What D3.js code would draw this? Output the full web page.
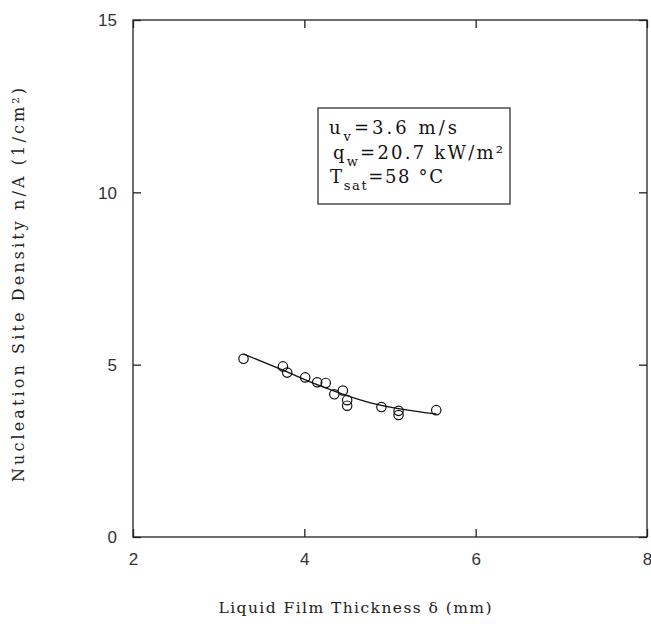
<!DOCTYPE html>
<html><head><meta charset="utf-8">
<script src="https://cdn.jsdelivr.net/npm/d3@7"></script>
<style>body{margin:0;background:#fff}</style>
</head><body>
<script>
const pointX = [3.29, 3.75, 3.80, 4.01, 4.15, 4.25, 4.35, 4.45, 4.50, 4.50, 4.90, 5.10, 5.10, 5.54];
const pointY = [5.17, 4.95, 4.77, 4.63, 4.49, 4.47, 4.14, 4.25, 3.97, 3.81, 3.77, 3.66, 3.54, 3.68];
const fitX = [3.29, 3.75, 4.18, 4.76, 5.35, 5.54];
const fitY = [5.31, 4.84, 4.39, 3.90, 3.63, 3.57];
const xTicks = [2, 4, 6, 8];
const yTicks = [0, 5, 10, 15];

const W = 651, H = 626;
const svg = d3.select("body").append("svg").attr("width", W).attr("height", H);
const x = d3.scaleLinear().domain([2, 8]).range([133, 647]);
const y = d3.scaleLinear().domain([0, 15]).range([537, 20]);

const axisColor = "#222";
svg.append("rect").attr("x", x(2)).attr("y", y(15)).attr("width", x(8) - x(2)).attr("height", y(0) - y(15))
  .attr("fill", "none").attr("stroke", axisColor).attr("stroke-width", 1.3);

const tl = 8;
const gB = svg.append("g").attr("transform", `translate(0,${y(0)})`)
  .call(d3.axisBottom(x).tickValues(xTicks).tickSize(-tl).tickPadding(16).tickFormat(d3.format("d")));
const gT = svg.append("g").attr("transform", `translate(0,${y(15)})`)
  .call(d3.axisTop(x).tickValues(xTicks).tickSize(-tl).tickFormat(""));
const gL = svg.append("g").attr("transform", `translate(${x(2)},0)`)
  .call(d3.axisLeft(y).tickValues(yTicks).tickSize(-tl).tickPadding(16).tickFormat(d3.format("d")));
const gR = svg.append("g").attr("transform", `translate(${x(8)},0)`)
  .call(d3.axisRight(y).tickValues(yTicks).tickSize(-tl).tickFormat(""));
[gB, gT, gL, gR].forEach(g => {
  g.select(".domain").remove();
  g.selectAll(".tick line").attr("stroke", axisColor).attr("stroke-width", 1.3);
  g.selectAll(".tick text").attr("font-family", "Liberation Sans, Arial, sans-serif")
    .attr("font-size", 17).attr("fill", "#333");
});
gB.selectAll(".tick text").attr("dy", "0.71em");
gL.selectAll(".tick text").attr("dy", "0.35em");

const line = d3.line().x(d => x(d[0])).y(d => y(d[1])).curve(d3.curveMonotoneX);
svg.append("path").datum(fitX.map((v, i) => [v, fitY[i]]))
  .attr("d", line).attr("fill", "none").attr("stroke", "#111").attr("stroke-width", 1.3);

svg.selectAll("circle.pt").data(pointX.map((v, i) => [v, pointY[i]])).enter().append("circle")
  .attr("class", "pt").attr("cx", d => x(d[0])).attr("cy", d => y(d[1])).attr("r", 4.7)
  .attr("fill", "none").attr("stroke", "#111").attr("stroke-width", 1.2);

svg.append("text").attr("x", 355).attr("y", 613).attr("text-anchor", "middle")
  .attr("font-family", "DejaVu Serif, Liberation Serif, serif").attr("font-size", 15.5).attr("fill", "#222")
  .attr("textLength", 273).attr("lengthAdjust", "spacing")
  .text("Liquid Film Thickness δ (mm)");
svg.append("text").attr("transform", "translate(24,285) rotate(-90)").attr("text-anchor", "middle")
  .attr("font-family", "DejaVu Serif, Liberation Serif, serif").attr("font-size", 16).attr("fill", "#222")
  .attr("textLength", 394).attr("lengthAdjust", "spacing")
  .text("Nucleation Site Density n/A (1/cm²)");

const bx = 318, by = 108, bw = 192, bh = 96;
svg.append("rect").attr("x", bx).attr("y", by).attr("width", bw).attr("height", bh)
  .attr("fill", "#fff").attr("stroke", "#222").attr("stroke-width", 1.2);
const ann = svg.append("g").attr("font-family", "DejaVu Serif, Liberation Serif, serif").attr("font-size", 18).attr("fill", "#111");
const l1 = ann.append("text").attr("x", 329).attr("y", 134).attr("textLength", 128).attr("lengthAdjust", "spacing");
l1.append("tspan").text("u");
l1.append("tspan").attr("font-size", 13).attr("dy", 7).text("v");
l1.append("tspan").attr("dy", -7).text("=3.6  m/s");
const l2 = ann.append("text").attr("x", 333).attr("y", 159).attr("textLength", 170).attr("lengthAdjust", "spacing");
l2.append("tspan").text("q");
l2.append("tspan").attr("font-size", 13).attr("dy", 7).text("w");
l2.append("tspan").attr("dy", -7).text("=20.7  kW/m²");
const l3 = ann.append("text").attr("x", 330).attr("y", 183).attr("textLength", 113).attr("lengthAdjust", "spacing");
l3.append("tspan").text("T");
l3.append("tspan").attr("font-size", 13).attr("dy", 7).text("sat");
l3.append("tspan").attr("dy", -7).text("=58  °C");
</script>
</body></html>
